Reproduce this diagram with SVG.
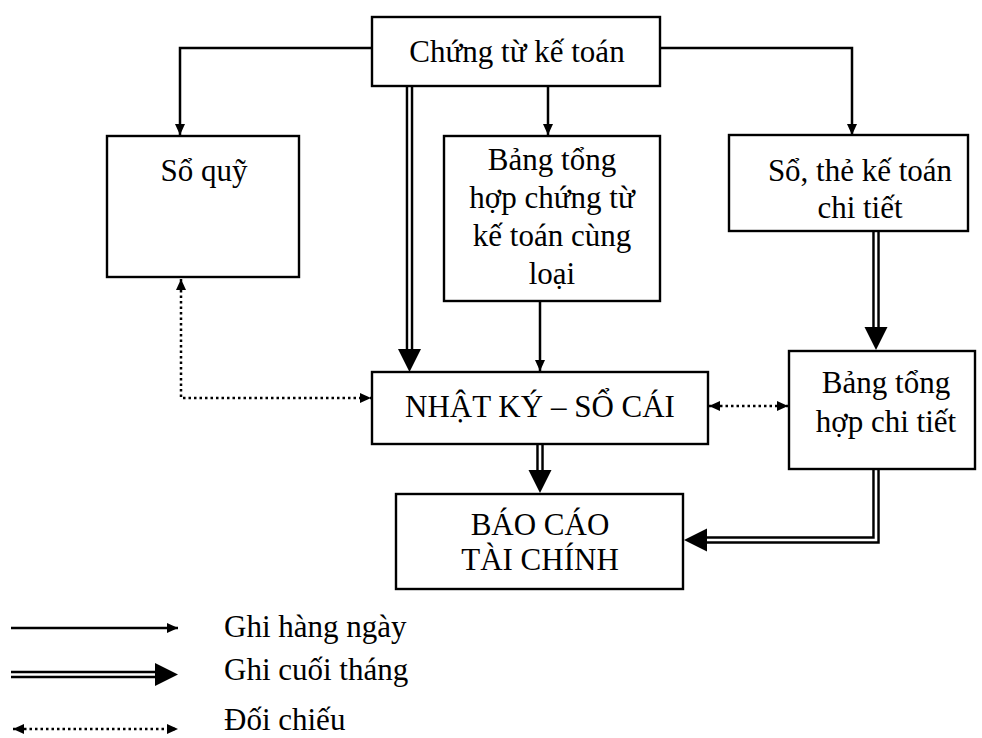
<svg xmlns="http://www.w3.org/2000/svg" width="982" height="738" viewBox="0 0 982 738">
<style>
  .box { fill: #fff; stroke: #000; stroke-width: 2.4; }
  .t { font-family: "Liberation Serif", "Times New Roman", serif; font-size: 31px; fill: #000; text-anchor: middle; }
  .tl { font-family: "Liberation Serif", "Times New Roman", serif; font-size: 31px; fill: #000; }
  .solid { fill: none; stroke: #000; stroke-width: 2.5; }
  .dbl { fill: none; stroke: #000; stroke-width: 7.5; stroke-linejoin: miter; }
  .dblin { fill: none; stroke: #fff; stroke-width: 2.6; stroke-linejoin: miter; }
  .dot { fill: none; stroke: #000; stroke-width: 2.5; stroke-dasharray: 2.5 3; }
</style>
<defs>
  <marker id="sa" markerUnits="userSpaceOnUse" markerWidth="12" markerHeight="11" refX="11" refY="5" orient="auto-start-reverse" overflow="visible">
    <path d="M0,0 L11,5 L0,10 z" fill="#000"/>
  </marker>
  <marker id="ba" markerUnits="userSpaceOnUse" markerWidth="24" markerHeight="24" refX="0" refY="11.5" orient="auto" overflow="visible">
    <path d="M0,0 L23,11.5 L0,23 z" fill="#000"/>
  </marker>
</defs>
<rect width="982" height="738" fill="#fff"/>

<g id="connectors">
  <!-- daily (solid) -->
  <path class="solid" d="M372,48 H180 V135" marker-end="url(#sa)"/>
  <path class="solid" d="M660,48 H852 V135" marker-end="url(#sa)"/>
  <path class="solid" d="M548,86 V135" marker-end="url(#sa)"/>
  <path class="solid" d="M540,301 V371" marker-end="url(#sa)"/>
  <!-- month-end (double) -->
  <path class="dbl" d="M409.5,86 V349" marker-end="url(#ba)"/>
  <path class="dblin" d="M409.5,86 V349"/>
  <path class="dbl" d="M876,231 V327" marker-end="url(#ba)"/>
  <path class="dblin" d="M876,231 V327"/>
  <path class="dbl" d="M540,444 V470" marker-end="url(#ba)"/>
  <path class="dblin" d="M540,444 V470"/>
  <path class="dbl" d="M876,469 V540 H707" marker-end="url(#ba)"/>
  <path class="dblin" d="M876,469 V540 H707"/>
  <!-- cross-check (dotted) -->
  <path class="dot" d="M181,279 V398 H371" marker-start="url(#sa)" marker-end="url(#sa)"/>
  <path class="dot" d="M709,406 H788" marker-start="url(#sa)" marker-end="url(#sa)"/>
</g>

<g id="n-chungtu">
  <rect class="box" x="372" y="17" width="288" height="69"/>
  <text class="t" x="517" y="62">Chứng từ kế toán</text>
</g>
<g id="n-soquy">
  <rect class="box" x="107" y="136" width="192" height="141"/>
  <text class="t" x="204" y="181">Sổ quỹ</text>
</g>
<g id="n-bangthct">
  <rect class="box" x="444" y="136" width="216" height="165"/>
  <text class="t" x="552" y="170">Bảng tổng</text>
  <text class="t" x="552" y="208">hợp chứng từ</text>
  <text class="t" x="552" y="246">kế toán cùng</text>
  <text class="t" x="552" y="284">loại</text>
</g>
<g id="n-sothe">
  <rect class="box" x="729" y="135" width="239" height="96"/>
  <text class="t" x="860" y="181">Sổ, thẻ kế toán</text>
  <text class="t" x="860" y="218">chi tiết</text>
</g>
<g id="n-nhatky">
  <rect class="box" x="372" y="372" width="336" height="72"/>
  <text class="t" x="540" y="417">NHẬT KÝ – SỔ CÁI</text>
</g>
<g id="n-bangct">
  <rect class="box" x="789" y="351" width="186" height="118"/>
  <text class="t" x="886" y="393">Bảng tổng</text>
  <text class="t" x="886" y="432">hợp chi tiết</text>
</g>
<g id="n-baocao">
  <rect class="box" x="396" y="494" width="287" height="95"/>
  <text class="t" x="540" y="535">BÁO CÁO</text>
  <text class="t" x="540" y="570">TÀI CHÍNH</text>
</g>

<g id="legend">
  <path class="solid" d="M11,628 H178" marker-end="url(#sa)"/>
  <path class="dbl" d="M11,674.5 H155" marker-end="url(#ba)"/>
  <path class="dblin" d="M11,674.5 H155"/>
  <path class="dot" d="M13,729 H178" marker-start="url(#sa)" marker-end="url(#sa)"/>
  <text class="tl" x="224" y="637">Ghi hàng ngày</text>
  <text class="tl" x="224" y="680">Ghi cuối tháng</text>
  <text class="tl" x="224" y="730">Đối chiếu</text>
</g>
</svg>
